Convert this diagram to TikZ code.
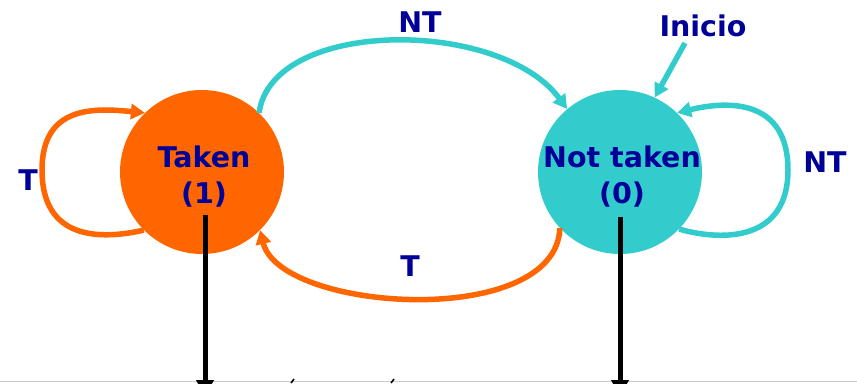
\documentclass[tikz,border=0pt]{standalone}
\usepackage{fontspec}
\setmainfont{DejaVu Sans}
\usetikzlibrary{arrows.meta,calc}
\definecolor{corange}{HTML}{FF6600}
\definecolor{ccyan}{HTML}{33CCCC}
\definecolor{cnavy}{HTML}{000099}
\begin{document}
\begin{tikzpicture}[x=1pt,y=-1pt,
  state/.style={circle,minimum size=164pt,inner sep=0pt},
  lbl/.style={text=cnavy,font=\fontsize{28.5}{36}\selectfont\bfseries,inner sep=0pt,align=center},
  carrow/.style={line width=5.5pt,-{Triangle[length=14pt,width=15pt]}},
  barrow/.style={line width=5pt,-{Triangle[length=16pt,width=17pt]}}]
\useasboundingbox (0,0) rectangle (857,383);
\clip (0,0) rectangle (857,383);
\draw[black!20,line width=1pt] (0,381.5) -- (857,381.5);
\node[state,fill=corange] (taken) at (202,172) {};
\node[state,fill=ccyan] (nt) at (620,172) {};
\node[lbl] (ttaken) at ($(taken.center)+(2,5)$) {Taken\\(1)};
\node[lbl] (tnt) at ($(nt.center)+(2,5)$) {Not taken\\(0)};
% NT top
\draw[carrow,ccyan] (taken.46) .. controls (272,18) and (500,18) .. (nt.130);
\node[lbl] (lnt) at (420,22) {NT};
% T bottom
\draw[carrow,corange] (nt.223) .. controls (556,330) and (280,312) .. (taken.-45);
\node[lbl] (lt) at (410,266) {T};
% left self loop
\coordinate (ll) at (42,170);
\draw[line width=5.5pt,corange] (taken.225) .. controls (100,240) and (42,240) .. (ll);
\draw[carrow,corange] (ll) .. controls (42,105) and (95,108) .. (taken.134);
\node[lbl] (lt2) at (28,180) {T};
% right self loop
\coordinate (rl) at (788,170);
\draw[line width=5.5pt,ccyan] (nt.-44) .. controls (725,242) and (788,240) .. (rl);
\draw[carrow,ccyan] (rl) .. controls (788,100) and (730,100) .. (nt.46);
\node[lbl] (lnt2) at (825,162) {NT};
% Inicio
\node[lbl] (ini) at (703,26) {Inicio};
\draw[carrow,ccyan] (685,43) -- (nt.65);
% black arrows
\coordinate (b1s) at (205,215);
\coordinate (b1e) at (205,396);
\coordinate (b2s) at (620,217);
\coordinate (b2e) at (620,396);
\draw[barrow] (b1s) -- (b1e);
\draw[barrow] (b2s) -- (b2e);
% cut-off text fragments
\draw[line width=1.6pt] (291,383) -- (294,379);
\draw[line width=1.6pt] (391,383) -- (394,379);
\end{tikzpicture}
\end{document}
